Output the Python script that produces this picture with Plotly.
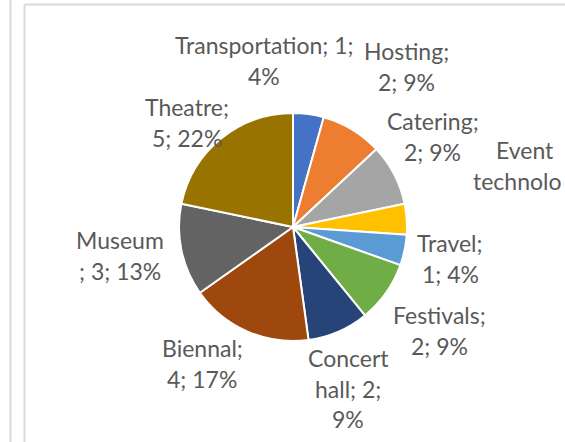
import plotly.graph_objects as go

# ---- data ----
categories = ["Transportation", "Hosting", "Catering", "Event technology", "Travel",
              "Festivals", "Concert hall", "Biennal", "Museum", "Theatre"]
values = [1, 2, 2, 1, 1, 2, 2, 4, 3, 5]
colors = ["#4472C4", "#ED7D31", "#A5A5A5", "#FFC000", "#5B9BD5",
          "#70AD47", "#264478", "#9E480E", "#636363", "#997300"]

# ---- label layout (style): line breaks and first-line pixel centre ----
# break positions are character indices in "Name; value; pct%"
label_breaks = [[18], [8], [9], [5, 17], [7], [10], [7, 16], [8], [6], [8]]
label_max_lines = [2, 2, 2, 2, 2, 2, 3, 2, 2, 2]
# Excel truncates the label that runs past the chart's right edge
label_max_chars = [None, None, None, 8, None, None, None, None, None, None]
label_pos = [(264, 45), (406, 51), (433, 121), (525, 150), (450, 243),
             (439, 315), (348, 358), (202, 348), (120, 240), (187, 107)]
LINE_GAP = 30.5
CLIP_LEFT_X = 471  # left edge of the truncated line

W, H = 565, 442
total = sum(values)

fig = go.Figure()
fig.add_trace(go.Pie(
    labels=categories, values=values, sort=False, direction="clockwise",
    rotation=0, textinfo="none", hoverinfo="label+value+percent",
    marker=dict(colors=colors, line=dict(color="white", width=2)),
    domain=dict(x=[(293 - 114) / W, (293 + 114) / W],
                y=[1 - 341 / H, 1 - 113 / H]),
    showlegend=False,
))

annotations = []
for name, v, br, nmax, mc, (px, py) in zip(categories, values, label_breaks,
                                           label_max_lines, label_max_chars,
                                           label_pos):
    pct = round(100 * v / total)
    full = f"{name}; {v}; {pct}%"
    cuts = [0] + br + [len(full)]
    lines = [full[a:b].strip() for a, b in zip(cuts[:-1], cuts[1:])]
    lines = [l for l in lines if l][:nmax]
    for i, line in enumerate(lines):
        xa, xx = "center", px / W
        if mc is not None and len(line) > mc:
            line = line[:mc]
            xa, xx = "left", CLIP_LEFT_X / W
        annotations.append(dict(
            x=xx, y=1 - (py + i * LINE_GAP) / H, xref="paper", yref="paper",
            text=line, showarrow=False, xanchor=xa, yanchor="middle",
            font=dict(family="Lato", size=23, color="#595959"),
        ))

shapes = [
    dict(type="line", xref="paper", yref="paper", x0=10.5 / W, x1=10.5 / W,
         y0=0, y1=1, line=dict(color="#DADADA", width=2)),
    dict(type="line", xref="paper", yref="paper", x0=24.5 / W, x1=24.5 / W,
         y0=0, y1=1 - 4.5 / H, line=dict(color="#DADADA", width=2)),
    dict(type="line", xref="paper", yref="paper", x0=24.5 / W, x1=1,
         y0=1 - 4.5 / H, y1=1 - 4.5 / H, line=dict(color="#DADADA", width=2)),
]

fig.update_layout(
    width=W, height=H, margin=dict(l=0, r=0, t=0, b=0),
    paper_bgcolor="white", plot_bgcolor="white",
    annotations=annotations, shapes=shapes,
)

fig.write_html("out.html")
